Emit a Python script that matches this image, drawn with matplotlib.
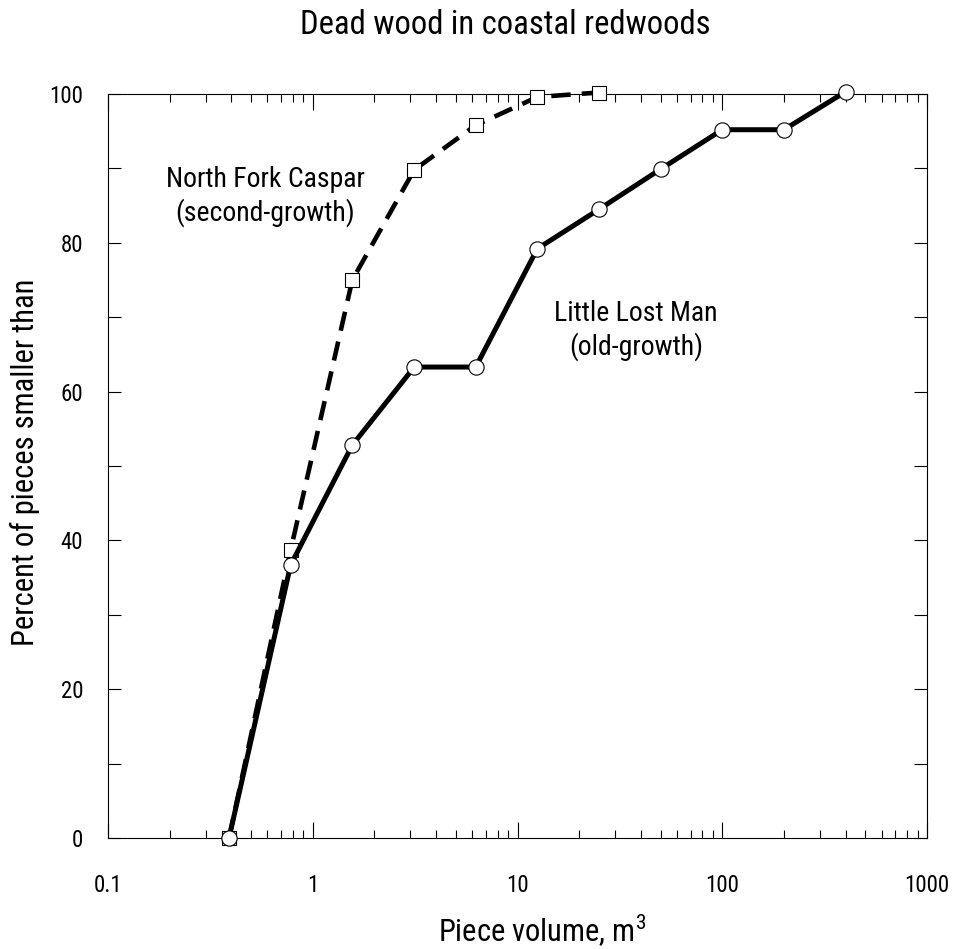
import matplotlib
matplotlib.use("Agg")
import matplotlib.pyplot as plt
from matplotlib import font_manager
from matplotlib.ticker import FixedLocator, FixedFormatter, NullFormatter

# ---------------- data ----------------
volume_old = [0.39, 0.78, 1.56, 3.13, 6.25, 12.5, 25, 50, 100, 200, 400]
pct_old = [0, 36.7, 52.8, 63.3, 63.3, 79.2, 84.5, 89.9, 95.2, 95.2, 100.3]

volume_second = [0.39, 0.78, 1.56, 3.13, 6.25, 12.5, 25]
pct_second = [0, 38.7, 75.0, 89.8, 95.8, 99.6, 100.2]

x_ticks = [0.1, 1, 10, 100, 1000]
x_tick_labels = ["0.1", "1", "10", "100", "1000"]
y_major = [0, 20, 40, 60, 80, 100]
y_minor = [10, 30, 50, 70, 90]

title = "Dead wood in coastal redwoods"
xlabel = "Piece volume, m$^3$"
ylabel = "Percent of pieces smaller than"
label_second = "North Fork Caspar\n(second-growth)"
label_old = "Little Lost Man\n(old-growth)"

# ---------------- font ----------------
available = {f.name for f in font_manager.fontManager.ttflist}
family = "Liberation Sans"
for cand in ["Liberation Sans Narrow", "Roboto Condensed", "Arial Narrow"]:
    if cand in available:
        family = cand
        break
plt.rcParams["font.family"] = [family, "DejaVu Sans"]
plt.rcParams["mathtext.fontset"] = "custom"
plt.rcParams["mathtext.rm"] = family
plt.rcParams["lines.scale_dashes"] = False

fig = plt.figure(figsize=(9.55, 9.49), dpi=100)
W, H = 955, 949
ax = fig.add_axes([108 / W, 1 - 838 / H, (927 - 108) / W, (838 - 94) / H])

ax.set_xscale("log")
ax.set_xlim(0.1, 1000)
ax.set_ylim(0, 100)

ax.plot(volume_second, pct_second, color="black", lw=3.3, dashes=(14, 8),
        marker="s", ms=9.5, mfc="white", mec="black", mew=0.8,
        clip_on=False, zorder=3)
ax.plot(volume_old, pct_old, color="black", lw=3.6,
        marker="o", ms=11, mfc="white", mec="black", mew=0.8,
        clip_on=False, zorder=4)

for s in ax.spines.values():
    s.set_linewidth(0.8)

ax.xaxis.set_major_locator(FixedLocator(x_ticks))
ax.xaxis.set_major_formatter(FixedFormatter(x_tick_labels))
minor = [m * 10.0 ** e for e in range(-1, 3) for m in range(2, 10)]
ax.xaxis.set_minor_locator(FixedLocator(minor))
ax.xaxis.set_minor_formatter(NullFormatter())

ax.yaxis.set_major_locator(FixedLocator(y_major))
ax.yaxis.set_minor_locator(FixedLocator(y_minor))
ax.yaxis.set_minor_formatter(NullFormatter())

fs_tick = 16.5
ax.tick_params(axis="x", which="major", direction="in", length=11.5, width=0.8,
               top=True, labelsize=fs_tick, pad=26)
ax.tick_params(axis="x", which="minor", direction="in", length=5.5, width=0.8,
               top=True)
ax.tick_params(axis="y", which="both", direction="in", length=9.5, width=0.8,
               right=True, labelsize=fs_tick, pad=18)

fig.text(505 / W, 1 - 25 / H, title, ha="center", va="center", fontsize=23.5)
fig.text(542 / W, 1 - 942 / H, xlabel, ha="center", va="baseline", fontsize=22)
fig.text(25 / W, 1 - 462 / H, ylabel, ha="center", va="center",
         rotation=90, fontsize=22)

ax.text((265 - 108) / 819, (838 - 221) / 744, label_second, transform=ax.transAxes,
        ha="center", va="baseline", fontsize=20, linespacing=1.25)
ax.text((636 - 108) / 819, (838 - 355) / 744, label_old, transform=ax.transAxes,
        ha="center", va="baseline", fontsize=20, linespacing=1.25)

fig.savefig("out.png", dpi=100)
